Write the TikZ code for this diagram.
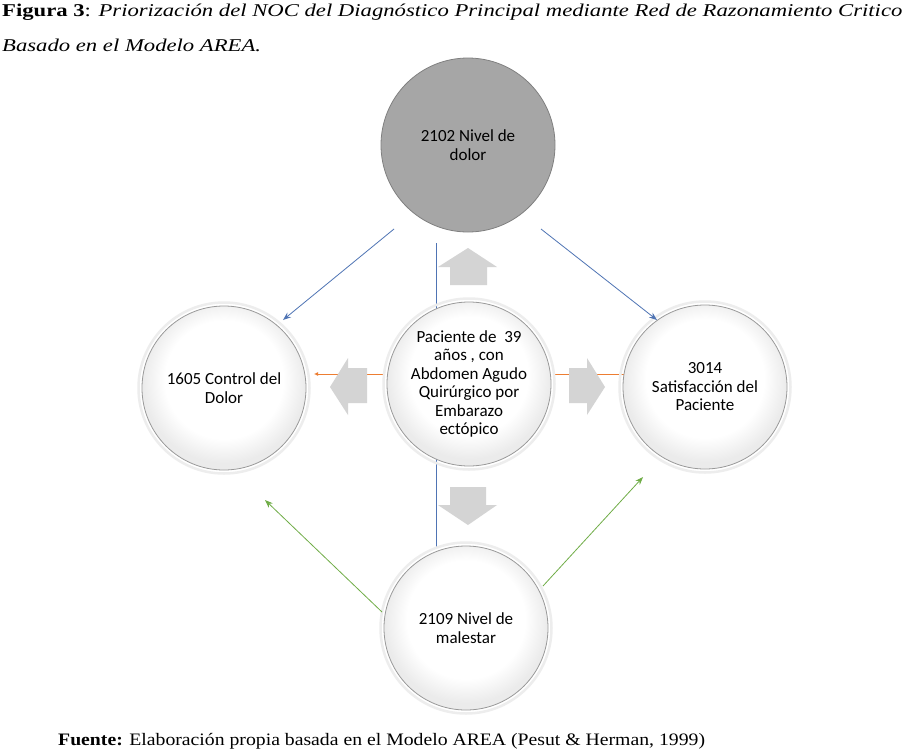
\documentclass[tikz,border=0pt]{standalone}
\usepackage{fontspec}
\setmainfont{Liberation Serif}
\newfontfamily\calibri{Carlito}
\usetikzlibrary{arrows.meta,shadings}
\definecolor{lnblue}{RGB}{79,116,180}
\definecolor{lngreen}{RGB}{112,173,71}
\definecolor{lnorange}{RGB}{237,125,49}
\definecolor{blockgray}{RGB}{212,212,212}
\pgfdeclareradialshading{bevelshade}{\pgfpoint{0bp}{4bp}}{color(0bp)=(white); color(18bp)=(white); color(25bp)=(black!8); color(50bp)=(black!8)}
\begin{document}
\begin{tikzpicture}[x=1pt,y=-1pt,
  wcirc/.style={circle, inner sep=0pt, minimum size=164pt, align=center,
    font=\calibri\fontsize{17}{18.5}\selectfont, draw=black!40, line width=0.8pt,
    shading=bevelshade},
  gcirc/.style={circle, inner sep=0pt, minimum size=174pt, align=center,
    font=\calibri\fontsize{17}{18.5}\selectfont, draw=black!50, line width=0.8pt,
    fill=black!35},
  glow/.style={draw=black!7, line width=2.5pt},
  blockarrow/.style={fill=blockgray, draw=none},
  bluearrow/.style={draw=lnblue, line width=0.8pt, -{Stealth[length=8pt,width=6pt]}},
  greenarrow/.style={draw=lngreen, line width=0.8pt, -{Stealth[length=8pt,width=6pt]}},
  orangeline/.style={draw=lnorange, line width=0.8pt},
  caption/.style={anchor=base west, inner sep=0pt, font=\fontsize{18}{20}\selectfont}
]
\useasboundingbox (0,0) rectangle (903,750);
\fill[white] (0,0) rectangle (903,750);

% title
\node[caption] (t1) at (2,16) {\scalebox{1.26}[1]{\textbf{Figura 3}: \textit{Priorización del NOC del Diagnóstico Principal mediante Red de Razonamiento Critico}}};
\node[caption] (t2) at (2,51) {\scalebox{1.26}[1]{\textit{Basado en el Modelo AREA.}}};
\node[caption, font=\fontsize{17.5}{20}\selectfont] (f1) at (58,745) {\scalebox{1.127}[1]{\textbf{Fuente:} Elaboración propia basada en el Modelo AREA (Pesut \& Herman, 1999)}};

% coordinates for connector ends
\coordinate (vt) at (436,243);
\coordinate (vb) at (436,549);
\coordinate (btl) at (394,229);
\coordinate (btlE) at (283,320);
\coordinate (btr) at (541,229);
\coordinate (btrE) at (657,320);
\coordinate (gl) at (382,612);
\coordinate (glE) at (265,500);
\coordinate (gr) at (543,586);
\coordinate (grE) at (643,477);
\coordinate (ol) at (384,374);
\coordinate (olE) at (314,374);
\coordinate (or) at (554,374);
\coordinate (orE) at (624,374);

% lines behind circles
\draw[draw=lnblue, line width=0.8pt] (vt) -- (vb);
\draw[orangeline, -{Latex[length=4pt,width=4pt]}] (ol) -- (olE);
\draw[orangeline] (or) -- (orE);

% glow rings
\draw[glow] (224,388) circle (85.5);
\draw[glow] (469,384) circle (85.5);
\draw[glow] (705,387) circle (85.5);
\draw[glow] (466,628) circle (85.5);

% circles
\node[gcirc] (top) at (468,145) {2102 Nivel de\\dolor};
\node[wcirc] (left) at (224,388) {1605 Control del\\Dolor};
\node[wcirc] (mid) at (469,384) {Paciente de\ \ 39\\años , con\\Abdomen Agudo\\Quirúrgico por\\Embarazo\\ectópico};
\node[wcirc] (right) at (705,387) {3014\\Satisfacción del\\Paciente};
\node[wcirc] (bot) at (466,628) {2109 Nivel de\\malestar};

% block arrows
\path[blockarrow] (450,285) -- (450,267) -- (438,267) -- (468,248) -- (497,267) -- (487,267) -- (487,285) -- cycle;
\path[blockarrow] (450,487) -- (486,487) -- (486,505) -- (497,505) -- (468,525) -- (438,505) -- (450,505) -- cycle;
\path[blockarrow] (367,368) -- (348,368) -- (348,358) -- (330,387) -- (348,415) -- (348,403) -- (367,403) -- cycle;
\path[blockarrow] (569,368) -- (587,368) -- (587,358) -- (605,387) -- (587,415) -- (587,403) -- (569,403) -- cycle;

% diagonal arrows
\draw[bluearrow] (btl) -- (btlE);
\draw[bluearrow] (btr) -- (btrE);
\draw[greenarrow] (gl) -- (glE);
\draw[greenarrow] (gr) -- (grE);
\end{tikzpicture}
\end{document}
